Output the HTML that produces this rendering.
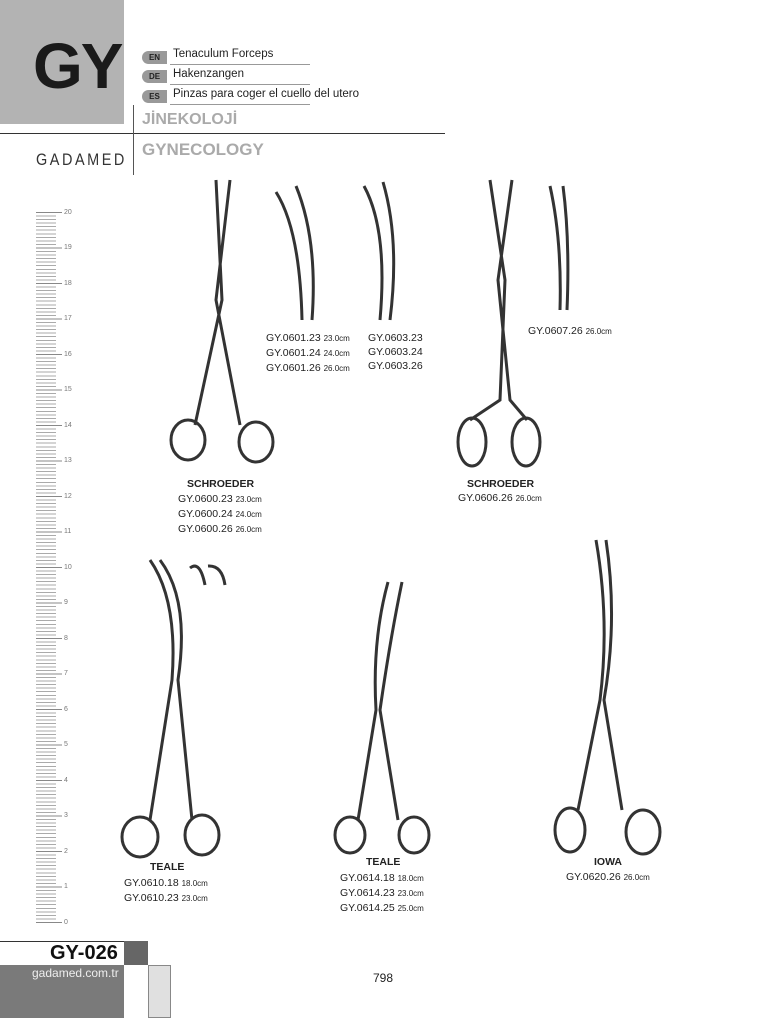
<!DOCTYPE html>
<html><head><meta charset="utf-8"><style>
body{margin:0;background:#fff;font-family:"Liberation Sans",sans-serif;}
.p{position:relative;width:768px;height:1018px;overflow:hidden;background:#fff}
.a{position:absolute;white-space:nowrap;color:#222}
.c{font-size:10.5px}
.s{font-size:8px}
.n{position:absolute;left:64px;font-size:7px;color:#777;line-height:8px}
</style></head><body><div class="p">
<div class="a" style="left:0;top:0;width:124px;height:124px;background:#b3b3b3"></div>
<div class="a" style="left:33px;top:30px;font-size:64px;font-weight:bold;color:#1a1a1a;letter-spacing:-2px;line-height:72px">GY</div>
<div class="a" style="left:142px;top:51px;width:25px;height:13px;background:#999;border-radius:7px 0 0 7px;font-size:8px;font-weight:bold;line-height:13px;text-align:center">EN</div>
<div class="a" style="left:142px;top:70px;width:25px;height:13px;background:#999;border-radius:7px 0 0 7px;font-size:8px;font-weight:bold;line-height:13px;text-align:center">DE</div>
<div class="a" style="left:142px;top:90px;width:25px;height:13px;background:#999;border-radius:7px 0 0 7px;font-size:8px;font-weight:bold;line-height:13px;text-align:center">ES</div>
<div class="a" style="left:173px;top:48px;font-size:11.5px">Tenaculum Forceps</div>
<div class="a" style="left:173px;top:68px;font-size:11.5px">Hakenzangen</div>
<div class="a" style="left:173px;top:88px;font-size:11.5px">Pinzas para coger el cuello del utero</div>
<div class="a" style="left:170px;top:64px;width:140px;border-top:1px solid #999"></div>
<div class="a" style="left:170px;top:84px;width:140px;border-top:1px solid #999"></div>
<div class="a" style="left:170px;top:104px;width:140px;border-top:1px solid #999"></div>
<div class="a" style="left:142px;top:111px;font-size:16px;font-weight:bold;color:#aaa">JİNEKOLOJİ</div>
<div class="a" style="left:142px;top:140px;font-size:17px;font-weight:bold;color:#aaa">GYNECOLOGY</div>
<div class="a" style="left:0;top:133px;width:445px;border-top:1px solid #333"></div>
<div class="a" style="left:133px;top:105px;height:70px;border-left:1px solid #555"></div>
<div class="a" style="left:36px;top:150px;font-size:17px;letter-spacing:3px;color:#333;transform:scaleX(.85);transform-origin:left">GADAMED</div>
<svg class="a" style="left:0;top:0" width="768" height="1018">
<g fill="none" stroke="#333" stroke-width="3">
<path d="M216 180 L222 300 L195 425 M230 180 L216 300 L240 425"/>
<ellipse cx="188" cy="440" rx="17" ry="20"/><ellipse cx="256" cy="442" rx="17" ry="20"/>
<path d="M276 192 Q300 230 302 320 M296 186 Q318 240 312 320"/>
<path d="M364 186 Q388 230 380 320 M383 182 Q400 240 390 320"/>
<path d="M490 180 L505 280 L500 400 L470 420 M512 180 L498 280 L510 400 L527 420"/>
<ellipse cx="472" cy="442" rx="14" ry="24"/><ellipse cx="526" cy="442" rx="14" ry="24"/>
<path d="M550 186 Q562 240 560 310 M563 186 Q570 240 567 310"/>
<path d="M150 560 Q178 600 172 680 L150 820 M160 560 Q190 600 178 680 L192 820"/>
<ellipse cx="140" cy="837" rx="18" ry="20"/><ellipse cx="202" cy="835" rx="17" ry="20"/>
<path d="M190 568 Q200 560 205 585 M208 566 Q222 565 225 585"/>
<path d="M388 582 Q372 640 376 710 L358 820 M402 582 Q390 640 380 710 L398 820"/>
<ellipse cx="350" cy="835" rx="15" ry="18"/><ellipse cx="414" cy="835" rx="15" ry="18"/>
<path d="M596 540 Q610 620 600 700 L578 810 M606 540 Q618 620 604 700 L622 810"/>
<ellipse cx="570" cy="830" rx="15" ry="22"/><ellipse cx="643" cy="832" rx="17" ry="22"/>
</g>
</svg>
<div class="a" style="left:36px;top:212px;width:20px;height:712px;background:repeating-linear-gradient(to bottom,#aaa 0,#aaa 1px,transparent 1px,transparent 3.55px)"></div>
<div class="a" style="left:36px;top:212px;width:26px;height:712px;background:repeating-linear-gradient(to bottom,#888 0,#888 1px,transparent 1px,transparent 35.5px)"></div>
<div class="n" style="top:209px">20</div><div class="n" style="top:244px">19</div><div class="n" style="top:280px">18</div><div class="n" style="top:315px">17</div><div class="n" style="top:351px">16</div><div class="n" style="top:386px">15</div><div class="n" style="top:422px">14</div><div class="n" style="top:457px">13</div><div class="n" style="top:493px">12</div><div class="n" style="top:528px">11</div><div class="n" style="top:564px">10</div><div class="n" style="top:599px">9</div><div class="n" style="top:635px">8</div><div class="n" style="top:670px">7</div><div class="n" style="top:706px">6</div><div class="n" style="top:741px">5</div><div class="n" style="top:777px">4</div><div class="n" style="top:812px">3</div><div class="n" style="top:848px">2</div><div class="n" style="top:883px">1</div><div class="n" style="top:919px">0</div>
<div class="a" style="left:187px;top:478px;font-size:10.5px;font-weight:bold">SCHROEDER</div>
<div class="a c" style="left:178px;top:492px;line-height:14px">GY.0600.23 <span class="s">23.0cm</span><br>GY.0600.24 <span class="s">24.0cm</span><br>GY.0600.26 <span class="s">26.0cm</span></div>
<div class="a c" style="left:266px;top:331px;line-height:14px">GY.0601.23 <span class="s">23.0cm</span><br>GY.0601.24 <span class="s">24.0cm</span><br>GY.0601.26 <span class="s">26.0cm</span></div>
<div class="a c" style="left:368px;top:331px;line-height:14px">GY.0603.23<br>GY.0603.24<br>GY.0603.26</div>
<div class="a c" style="left:528px;top:325px">GY.0607.26 <span class="s">26.0cm</span></div>
<div class="a" style="left:467px;top:478px;font-size:10.5px;font-weight:bold">SCHROEDER</div>
<div class="a c" style="left:458px;top:492px">GY.0606.26 <span class="s">26.0cm</span></div>
<div class="a" style="left:150px;top:861px;font-size:10.5px;font-weight:bold">TEALE</div>
<div class="a c" style="left:124px;top:876px;line-height:14px">GY.0610.18 <span class="s">18.0cm</span><br>GY.0610.23 <span class="s">23.0cm</span></div>
<div class="a" style="left:366px;top:856px;font-size:10.5px;font-weight:bold">TEALE</div>
<div class="a c" style="left:340px;top:871px;line-height:14px">GY.0614.18 <span class="s">18.0cm</span><br>GY.0614.23 <span class="s">23.0cm</span><br>GY.0614.25 <span class="s">25.0cm</span></div>
<div class="a" style="left:594px;top:856px;font-size:10.5px;font-weight:bold">IOWA</div>
<div class="a c" style="left:566px;top:871px">GY.0620.26 <span class="s">26.0cm</span></div>
<div class="a" style="left:0;top:941px;width:124px;height:24px;border-top:1px solid #333;background:#fff"></div>
<div class="a" style="left:50px;top:942px;font-size:20px;font-weight:bold;color:#111">GY-026</div>
<div class="a" style="left:124px;top:941px;width:24px;height:24px;background:#666"></div>
<div class="a" style="left:0;top:965px;width:124px;height:53px;background:#7a7a7a"></div>
<div class="a" style="left:32px;top:966px;font-size:12px;color:#eee">gadamed.com.tr</div>
<div class="a" style="left:124px;top:965px;width:24px;height:53px;background:#fff"></div>
<div class="a" style="left:148px;top:965px;width:23px;height:53px;background:#e0e0e0;border:1px solid #888;box-sizing:border-box"></div>
<div class="a" style="left:373px;top:971px;font-size:12px">798</div>
</div></body></html>
